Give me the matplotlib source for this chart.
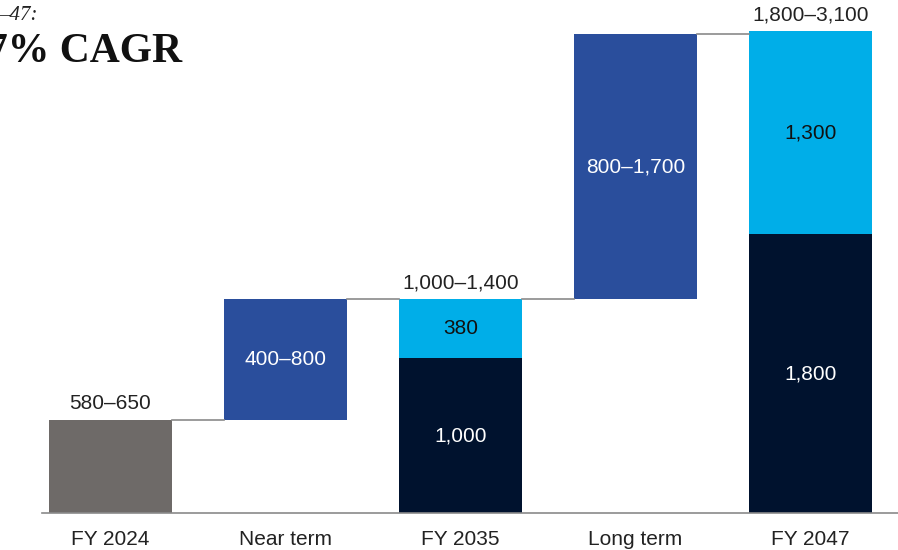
import matplotlib.pyplot as plt
import numpy as np

categories = ['FY 2024', 'Near term', 'FY 2035', 'Long term', 'FY 2047']
# stacked totals / floating steps (units ~ arbitrary)
fy2024 = 600
near_term = 780
fy2035_base = 1000
fy2035_top = 380
long_term = 1710
fy2047_base = 1800
fy2047_top = 1310

range_labels = ['580–650', '400–800', '1,000–1,400', '800–1,700', '1,800–3,100']
seg_labels_2035 = ['1,000', '380']
seg_labels_2047 = ['1,800', '1,300']

GRAY = '#6e6a68'
BLUE = '#2a4e9c'
CYAN = '#00aee8'
NAVY = '#00122e'
LINE = '#8a8a8a'

plt.rcParams['font.family'] = ['Liberation Sans', 'DejaVu Sans']

fig = plt.figure(figsize=(8.98, 5.5), dpi=100)
ax = fig.add_axes([42 / 898, 37 / 550, 856 / 898, 513 / 550])

x = np.arange(len(categories))
w = 0.703

ax.bar(x[0], fy2024, w, color=GRAY)
ax.bar(x[1], near_term, w, bottom=fy2024, color=BLUE)
ax.bar(x[2], fy2035_base, w, color=NAVY)
ax.bar(x[2], fy2035_top, w, bottom=fy2035_base, color=CYAN)
t2035 = fy2035_base + fy2035_top
ax.bar(x[3], long_term, w, bottom=t2035, color=BLUE)
ax.bar(x[4], fy2047_base, w, color=NAVY)
ax.bar(x[4], fy2047_top, w, bottom=fy2047_base, color=CYAN)

# connector lines
levels = [fy2024, fy2024 + near_term, t2035, t2035 + long_term]
for i, lv in enumerate(levels):
    ax.plot([x[i] + w / 2, x[i + 1] - w / 2], [lv, lv], color=LINE, lw=1.2)

fs = 15
ax.text(x[0], fy2024 + 45, range_labels[0], ha='center', va='bottom', fontsize=fs, color='#222222')
ax.text(x[1], fy2024 + near_term / 2, range_labels[1], ha='center', va='center', fontsize=fs, color='white')
ax.text(x[2], t2035 + 45, range_labels[2], ha='center', va='bottom', fontsize=fs, color='#222222')
ax.text(x[2], fy2035_base / 2, seg_labels_2035[0], ha='center', va='center', fontsize=fs, color='white')
ax.text(x[2], fy2035_base + fy2035_top / 2, seg_labels_2035[1], ha='center', va='center', fontsize=fs, color='#111111')
ax.text(x[3], t2035 + long_term / 2, range_labels[3], ha='center', va='center', fontsize=fs, color='white')
ax.text(x[4], fy2047_base + fy2047_top + 45, range_labels[4], ha='center', va='bottom', fontsize=fs, color='#222222')
ax.text(x[4], fy2047_base / 2, seg_labels_2047[0], ha='center', va='center', fontsize=fs, color='white')
ax.text(x[4], fy2047_base + fy2047_top / 2, seg_labels_2047[1], ha='center', va='center', fontsize=fs, color='#111111')

ax.set_xlim(-0.391, 4.5)
ax.set_ylim(0, 3310)
ax.set_xticks(x)
ax.set_xticklabels(categories, fontsize=fs, color='#222222')
ax.tick_params(axis='x', length=0, pad=12)
ax.set_yticks([])
for s in ['top', 'right', 'left']:
    ax.spines[s].set_visible(False)
ax.spines['bottom'].set_color(LINE)
ax.spines['bottom'].set_linewidth(1.2)

# cropped headline text in the top-left corner
fig.text(38 / 898, 1 - 15 / 550, '–47:', ha='right', va='center', fontsize=15,
         family='Liberation Serif', style='italic', color='#222222')
fig.text(182 / 898, 1 - 52 / 550, '7% CAGR', ha='right', va='center', fontsize=30,
         family='Liberation Serif', weight='bold', color='#111111')

fig.savefig('out.png', dpi=100)
